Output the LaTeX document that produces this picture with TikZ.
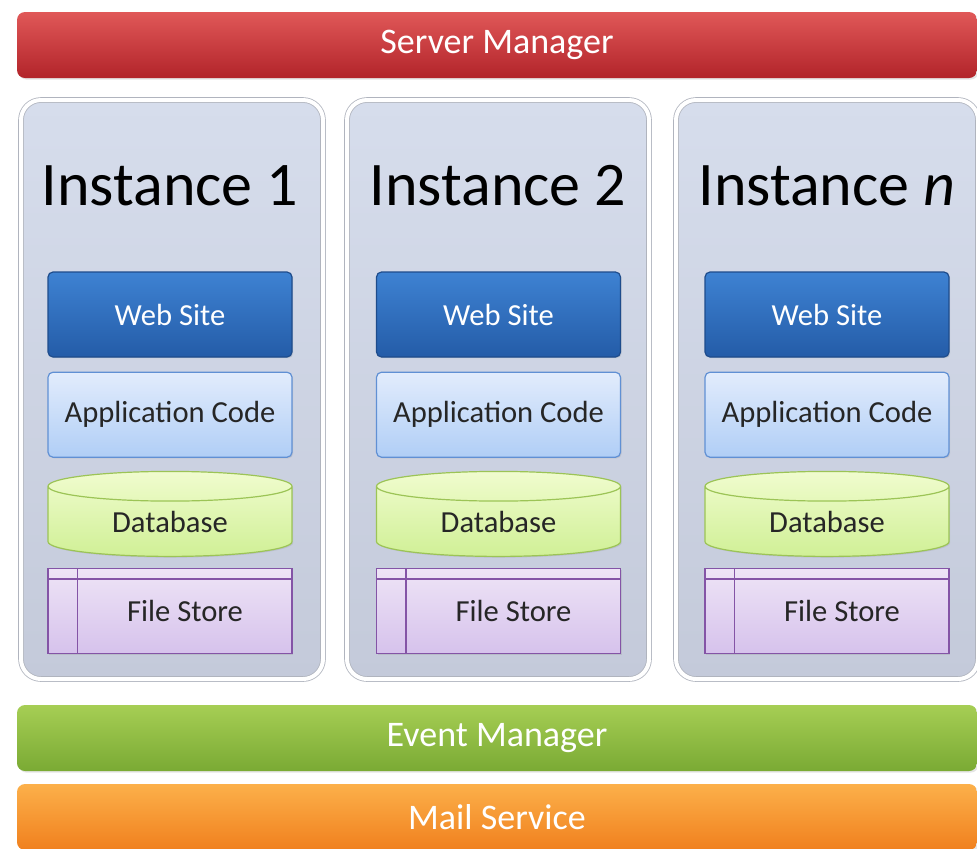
\documentclass[tikz,border=0pt]{standalone}
\usepackage{fontspec}
\setmainfont{Carlito}
\usetikzlibrary{positioning,shapes.geometric,shadows}

\definecolor{smtop}{RGB}{224,88,88}
\definecolor{smbot}{RGB}{178,36,42}
\definecolor{emtop}{RGB}{166,206,84}
\definecolor{embot}{RGB}{122,170,52}
\definecolor{mstop}{RGB}{252,176,74}
\definecolor{msbot}{RGB}{240,128,30}
\definecolor{insttop}{RGB}{214,221,236}
\definecolor{instbot}{RGB}{196,202,218}
\definecolor{instline}{RGB}{176,180,190}
\definecolor{webtop}{RGB}{62,130,210}
\definecolor{webbot}{RGB}{36,92,168}
\definecolor{webline}{RGB}{30,76,140}
\definecolor{apptop}{RGB}{226,236,252}
\definecolor{appbot}{RGB}{176,206,246}
\definecolor{appline}{RGB}{96,144,212}
\definecolor{dbtop}{RGB}{240,252,206}
\definecolor{dbbot}{RGB}{208,240,150}
\definecolor{dbline}{RGB}{156,196,86}
\definecolor{fstop}{RGB}{238,228,246}
\definecolor{fsbot}{RGB}{214,194,236}
\definecolor{fsline}{RGB}{132,84,166}

\begin{document}
\begin{tikzpicture}[x=0.5pt,y=-0.5pt,node distance=7pt]
        \tikzstyle{bar}=[rectangle,rounded corners=4pt,minimum width=480pt,minimum height=33pt,
                         text=white,font=\fontsize{18}{21}\selectfont,
                         drop shadow={opacity=0.2,shadow xshift=0.8pt,shadow yshift=-0.8pt}]
        \tikzstyle{instance}=[rectangle,rounded corners=10pt,minimum width=151pt,minimum height=289.5pt,
                              draw=instline,line width=0.4pt,double=white,double distance=2pt,
                              top color=insttop,bottom color=instbot,
                              drop shadow={opacity=0.2,shadow xshift=0.6pt,shadow yshift=-0.6pt}]
        \tikzstyle{title}=[anchor=base,font=\fontsize{31}{36}\selectfont]
        \tikzstyle{box}=[rectangle,minimum width=122pt,minimum height=42.5pt,line width=0.6pt,
                         font=\fontsize{15.3}{18}\selectfont,text=black!85,
                         drop shadow={opacity=0.2,shadow xshift=0.6pt,shadow yshift=-0.6pt}]
        \tikzstyle{website}=[box,rounded corners=2.5pt,draw=webline,top color=webtop,bottom color=webbot,text=white]
        \tikzstyle{appcode}=[box,rounded corners=2.5pt,draw=appline,top color=apptop,bottom color=appbot]
        \tikzstyle{database}=[box,cylinder,shape border rotate=90,aspect=0.23,draw=dbline,
                              top color=dbtop,bottom color=dbbot]
        \tikzstyle{filestore}=[box,draw=fsline,top color=fstop,bottom color=fsbot]

        \useasboundingbox[fill=white] (0,0) rectangle (977,848);

        \node[bar,top color=smtop,bottom color=smbot] (SM) at (497,45)  {Server Manager};
        \node[bar,top color=emtop,bottom color=embot] (EM) at (497,738) {Event Manager};
        \node[bar,top color=mstop,bottom color=msbot] (MS) at (497,817) {Mail Service};

        \node[instance] (I1) at (172,389.5) {}; % Instance 1
        \node[instance] (I2) at (498,389.5) {}; % Instance 2
        \node[instance] (I3) at (827,389.5) {}; % Instance n

        \node[title] (T1) at (170,205) {Instance 1};
        \node[title] (T2) at (498,205) {Instance 2};
        \node[title] (T3) at (827,205) {Instance \textit{n}};

        \node[website]   (W1) at (170,314.5)       {Web Site};
        \node[appcode]   (A1) [below=of W1]        {Application Code};
        \node[database]  (D1) [below=6.5pt of A1]  {\raisebox{2.5pt}{Database}};
        \node[filestore] (F1) [below=5.5pt of D1]  {\hspace*{15pt}File Store};

        \node[website]   (W2) at (498.5,314.5)     {Web Site};
        \node[appcode]   (A2) [below=of W2]        {Application Code};
        \node[database]  (D2) [below=6.5pt of A2]  {\raisebox{2.5pt}{Database}};
        \node[filestore] (F2) [below=5.5pt of D2]  {\hspace*{15pt}File Store};

        \node[website]   (W3) at (827,314.5)       {Web Site};
        \node[appcode]   (A3) [below=of W3]        {Application Code};
        \node[database]  (D3) [below=6.5pt of A3]  {\raisebox{2.5pt}{Database}};
        \node[filestore] (F3) [below=5.5pt of D3]  {\hspace*{15pt}File Store};

        \path[draw=fsline,line width=0.6pt]
                  ([xshift=15pt]F1.north west) edge ([xshift=15pt]F1.south west)
                  ([yshift=-5.5pt]F1.north west) edge ([yshift=-5.5pt]F1.north east)
                  ([xshift=15pt]F2.north west) edge ([xshift=15pt]F2.south west)
                  ([yshift=-5.5pt]F2.north west) edge ([yshift=-5.5pt]F2.north east)
                  ([xshift=15pt]F3.north west) edge ([xshift=15pt]F3.south west)
                  ([yshift=-5.5pt]F3.north west) edge ([yshift=-5.5pt]F3.north east);
      \end{tikzpicture}
\end{document}
